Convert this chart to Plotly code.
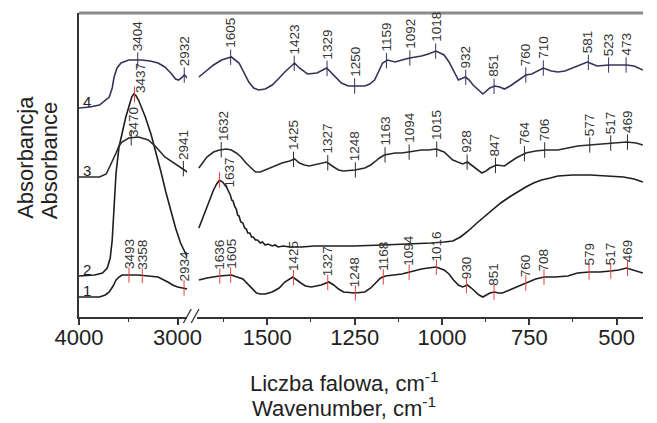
import numpy as np
import plotly.graph_objects as go

# ---------------- data (wavenumber in cm-1, absorbance in a.u., curves offset) ----------------
# curve 1
c1_hi_wn = [4000, 3792, 3733, 3693, 3654, 3624, 3594, 3564, 3495, 3396, 3297, 3198, 3099, 3050, 3000, 2931, 2901]
c1_hi_ab = [0.33, 0.33, 0.35, 0.38, 0.44, 0.50, 0.53, 0.55, 0.55, 0.55, 0.54, 0.53, 0.48, 0.45, 0.43, 0.42, 0.41]
c1_lo_wn = [1696, 1673, 1637, 1603, 1570, 1556, 1542, 1531, 1520, 1506, 1486, 1466, 1450, 1427, 1408, 1391, 1374,
            1346, 1324, 1310, 1296, 1282, 1249, 1221, 1204, 1190, 1176, 1162, 1134, 1115, 1092, 1059, 1039, 1017,
            994, 980, 967, 953, 941, 927, 916, 905, 894, 883, 872, 863, 849, 838, 827, 807, 788, 771, 760, 732,
            707, 676, 640, 612, 578, 548, 517, 494, 472, 450, 425]
c1_lo_ab = [0.50, 0.52, 0.54, 0.55, 0.51, 0.46, 0.40, 0.37, 0.36, 0.36, 0.38, 0.42, 0.48, 0.53, 0.48, 0.44, 0.43,
            0.45, 0.48, 0.45, 0.41, 0.38, 0.37, 0.38, 0.42, 0.47, 0.52, 0.54, 0.55, 0.56, 0.58, 0.61, 0.62, 0.63,
            0.60, 0.56, 0.50, 0.45, 0.43, 0.45, 0.42, 0.38, 0.35, 0.33, 0.35, 0.37, 0.38, 0.37, 0.37, 0.40, 0.43,
            0.45, 0.47, 0.51, 0.53, 0.53, 0.54, 0.57, 0.58, 0.58, 0.59, 0.60, 0.62, 0.60, 0.57]
# curve 2
c2_hi_wn = [4000, 3842, 3762, 3713, 3683, 3663, 3644, 3624, 3594, 3564, 3525, 3495, 3465, 3446, 3426, 3396, 3327,
            3267, 3218, 3168, 3119, 3069, 3020, 2970, 2921, 2901]
c2_hi_ab = [0.54, 0.55, 0.57, 0.62, 0.72, 0.90, 1.23, 1.57, 1.83, 1.97, 2.13, 2.23, 2.33, 2.36, 2.35, 2.30, 2.13,
            1.95, 1.78, 1.58, 1.38, 1.19, 1.02, 0.87, 0.76, 0.73]
c2_lo_wn = [1696, 1684, 1673, 1662, 1654, 1645, 1637, 1628, 1617, 1606, 1602, 1598, 1594, 1589, 1585, 1581, 1576,
            1570, 1565, 1560, 1556, 1550, 1545, 1540, 1534, 1528, 1520, 1514, 1506, 1498, 1486, 1478, 1469, 1455,
            1436, 1402, 1366, 1310, 1254, 1170, 1087, 1031, 994, 969, 947, 925, 900, 877, 855, 832, 807, 785,
            760, 738, 715, 690, 668, 626, 576, 528, 481, 450, 425]
c2_lo_ab = [1.02, 1.13, 1.23, 1.34, 1.40, 1.46, 1.50, 1.48, 1.43, 1.35, 1.30, 1.29, 1.24, 1.21, 1.15, 1.14, 1.08,
            1.07, 1.02, 1.01, 0.97, 0.97, 0.93, 0.93, 0.90, 0.90, 0.87, 0.88, 0.85, 0.86, 0.84, 0.85, 0.83, 0.84,
            0.83, 0.83, 0.84, 0.84, 0.84, 0.85, 0.86, 0.87, 0.88, 0.89, 0.93, 0.99, 1.07, 1.14, 1.20, 1.27, 1.33,
            1.38, 1.43, 1.47, 1.50, 1.52, 1.54, 1.55, 1.55, 1.54, 1.53, 1.51, 1.48]
# curve 3
c3_hi_wn = [4000, 3792, 3723, 3693, 3654, 3624, 3594, 3564, 3495, 3396, 3297, 3218, 3129, 3050, 3000, 2951, 2921, 2901]
c3_hi_ab = [1.53, 1.53, 1.56, 1.62, 1.70, 1.77, 1.84, 1.88, 1.92, 1.93, 1.90, 1.83, 1.73, 1.68, 1.65, 1.62, 1.60, 1.58]
c3_lo_wn = [1696, 1684, 1673, 1654, 1637, 1617, 1603, 1589, 1575, 1561, 1547, 1534, 1520, 1506, 1483, 1458, 1436,
            1422, 1408, 1394, 1380, 1352, 1330, 1310, 1296, 1282, 1249, 1221, 1204, 1193, 1179, 1165, 1134, 1115,
            1092, 1059, 1039, 1017, 994, 980, 969, 941, 927, 916, 905, 886, 874, 863, 844, 821, 805, 788, 760,
            732, 704, 668, 640, 612, 578, 548, 517, 472, 444, 425]
c3_lo_ab = [1.62, 1.68, 1.73, 1.78, 1.80, 1.81, 1.80, 1.77, 1.73, 1.67, 1.62, 1.58, 1.58, 1.60, 1.63, 1.67, 1.69,
            1.71, 1.67, 1.65, 1.64, 1.66, 1.68, 1.63, 1.60, 1.59, 1.60, 1.62, 1.65, 1.68, 1.72, 1.75, 1.77, 1.77,
            1.78, 1.80, 1.80, 1.81, 1.78, 1.74, 1.70, 1.66, 1.68, 1.65, 1.62, 1.57, 1.59, 1.62, 1.65, 1.64, 1.68,
            1.72, 1.77, 1.79, 1.80, 1.80, 1.82, 1.84, 1.85, 1.86, 1.87, 1.88, 1.87, 1.85]
# curve 4
c4_hi_wn = [4000, 3891, 3792, 3723, 3693, 3663, 3644, 3614, 3574, 3495, 3366, 3277, 3198, 3129, 3069, 3020, 2990,
            2960, 2931, 2901]
c4_hi_ab = [2.22, 2.23, 2.25, 2.30, 2.33, 2.42, 2.53, 2.62, 2.67, 2.70, 2.70, 2.69, 2.67, 2.63, 2.57, 2.51, 2.50,
            2.52, 2.55, 2.52]
c4_lo_wn = [1696, 1673, 1654, 1631, 1603, 1581, 1567, 1553, 1539, 1525, 1506, 1486, 1466, 1450, 1422, 1408, 1385,
            1358, 1330, 1310, 1288, 1268, 1249, 1221, 1207, 1193, 1182, 1170, 1156, 1134, 1115, 1092, 1059, 1039,
            1017, 994, 980, 969, 953, 933, 922, 911, 897, 883, 863, 849, 835, 821, 805, 788, 771, 760, 743, 726,
            710, 687, 668, 648, 620, 598, 584, 570, 556, 522, 500, 472, 450, 425]
c4_lo_ab = [2.53, 2.60, 2.65, 2.70, 2.73, 2.67, 2.58, 2.48, 2.42, 2.40, 2.41, 2.45, 2.52, 2.58, 2.67, 2.62, 2.56,
            2.57, 2.62, 2.55, 2.47, 2.44, 2.44, 2.44, 2.46, 2.50, 2.58, 2.67, 2.70, 2.68, 2.70, 2.72, 2.74, 2.76,
            2.79, 2.75, 2.68, 2.60, 2.50, 2.53, 2.50, 2.45, 2.40, 2.36, 2.42, 2.44, 2.43, 2.41, 2.44, 2.48, 2.52,
            2.55, 2.56, 2.59, 2.62, 2.59, 2.58, 2.59, 2.63, 2.66, 2.68, 2.66, 2.64, 2.65, 2.65, 2.65, 2.64, 2.60]

# peak labels
c1_hi_peaks = [3493, 3358, 2934]
c1_lo_peaks = [1636, 1605, 1425, 1327, 1248, 1168, 1094, 1016, 930, 851, 760, 708, 579, 517, 469]
c2_hi_peaks = [3437]
c2_lo_peaks = [1637]
c3_hi_peaks = [3470, 2941]
c3_lo_peaks = [1632, 1425, 1327, 1248, 1163, 1094, 1015, 928, 847, 764, 706, 577, 517, 469]
c4_hi_peaks = [3404, 2932]
c4_lo_peaks = [1605, 1423, 1329, 1250, 1159, 1092, 1018, 932, 851, 760, 710, 581, 523, 473]

curve_names = ["1", "2", "3", "4"]
x_major_hi = [4000, 3000]
x_minor_hi = [3500]
x_major_lo = [1500, 1250, 1000, 750, 500]
x_minor_lo = [1625, 1375, 1125, 875, 625]

# ---------------- figure ----------------
FONT = "Liberation Sans, Arial, Helvetica, sans-serif"
W, H = 657, 423
L, R, T, B = 79, 0, 13, 106
PW = W - L - R
PH = H - T - B

def px2paper_x(px):
    return (px - L) / PW

def px2paper_y(py):
    return (H - B - py) / PH

curves = [
    (c1_hi_wn, c1_hi_ab, c1_lo_wn, c1_lo_ab, c1_hi_peaks, c1_lo_peaks, "#1e1e1e", "#e8413c", 5),
    (c2_hi_wn, c2_hi_ab, c2_lo_wn, c2_lo_ab, c2_hi_peaks, c2_lo_peaks, "#1e1e1e", "#e8413c", 8),
    (c3_hi_wn, c3_hi_ab, c3_lo_wn, c3_lo_ab, c3_hi_peaks, c3_lo_peaks, "#2a2a2a", "#2a2a2a", 8),
    (c4_hi_wn, c4_hi_ab, c4_lo_wn, c4_lo_ab, c4_hi_peaks, c4_lo_peaks, "#34345a", "#34345a", 8),
]

# per-label fine offsets (pixels)
label_offsets = {("2", 3437): (6, 1), ("2", 1637): (10, -8), ("3", 3470): (3, 0), ("3", 1632): (3, 8)}

fig = go.Figure()
annotations = []
for name, (hw, ha, lw, la, hp, lp, col, mcol, ysh) in zip(curve_names, curves):
    fig.add_trace(go.Scatter(x=hw, y=ha, xaxis="x", yaxis="y", mode="lines",
                             line=dict(color=col, width=1.6), hoverinfo="skip", showlegend=False))
    fig.add_trace(go.Scatter(x=lw, y=la, xaxis="x2", yaxis="y", mode="lines",
                             line=dict(color=col, width=1.6), hoverinfo="skip", showlegend=False))
    for wns, abs_, peaks, xr in ((hw, ha, hp, "x"), (lw, la, lp, "x2")):
        yv = np.interp(peaks, wns[::-1], abs_[::-1])
        fig.add_trace(go.Scatter(x=peaks, y=yv, xaxis=xr, yaxis="y", mode="markers",
                                 marker=dict(symbol="line-ns", size=11, line=dict(color=mcol, width=1)),
                                 hoverinfo="skip", showlegend=False))
        for p, y in zip(peaks, yv):
            dx, dy = label_offsets.get((name, p), (0, ysh))
            annotations.append(dict(x=p, y=y, xref=xr, yref="y", text=str(p), textangle=-90,
                                    showarrow=False, xanchor="center", yanchor="bottom",
                                    xshift=dx, yshift=dy, borderpad=0,
                                    font=dict(family=FONT, size=13.5, color="#333333")))
    # curve number at left edge
    annotations.append(dict(x=hw[0], y=ha[0], xref="x", yref="y", text=name, showarrow=False,
                            xanchor="left", yanchor="bottom", xshift=3, yshift=-3, borderpad=0,
                            font=dict(family=FONT, size=15, color="#222222")))

# axis titles
annotations += [
    dict(x=px2paper_x(351), y=px2paper_y(382), xref="paper", yref="paper", text="Liczba falowa, cm<sup>-1</sup>",
         showarrow=False, xanchor="center", yanchor="middle", font=dict(family=FONT, size=22, color="#222222")),
    dict(x=px2paper_x(351), y=px2paper_y(407), xref="paper", yref="paper", text="Wavenumber, cm<sup>-1</sup>",
         showarrow=False, xanchor="center", yanchor="middle", font=dict(family=FONT, size=22, color="#222222")),
    dict(x=px2paper_x(24), y=px2paper_y(221), xref="paper", yref="paper", text="Absorbancja", textangle=-90,
         showarrow=False, xanchor="center", yanchor="bottom", font=dict(family=FONT, size=22, color="#222222")),
    dict(x=px2paper_x(49), y=px2paper_y(221), xref="paper", yref="paper", text="Absorbance", textangle=-90,
         showarrow=False, xanchor="center", yanchor="bottom", font=dict(family=FONT, size=22, color="#222222")),
]

axis_common = dict(showgrid=False, zeroline=False, showline=True, linecolor="#333333", linewidth=1.5,
                   ticks="outside", ticklen=6, tickwidth=1.5, tickcolor="#333333", ticklabelstandoff=-6,
                   tickfont=dict(family=FONT, size=22, color="#222222"), anchor="y")

hi_end = 4000 - (190 - L) / 0.101
lo_start = 1500 + (272 - 200) / 0.358
lo_end = 1500 - (W - 272) / 0.358

shapes = [
    dict(type="line", xref="paper", yref="paper", x0=0, x1=1, y0=1, y1=1,
         line=dict(color="#8a8a8a", width=3)),
    dict(type="line", xref="paper", yref="paper", x0=px2paper_x(186), x1=px2paper_x(194),
         y0=px2paper_y(323), y1=px2paper_y(309), line=dict(color="#333333", width=1.3)),
    dict(type="line", xref="paper", yref="paper", x0=px2paper_x(194), x1=px2paper_x(202),
         y0=px2paper_y(323), y1=px2paper_y(309), line=dict(color="#333333", width=1.3)),
]

fig.update_layout(
    width=W, height=H, margin=dict(l=L, r=R, t=T, b=B, pad=0),
    paper_bgcolor="white", plot_bgcolor="white",
    xaxis=dict(domain=[0, px2paper_x(190)], range=[4000, hi_end], tickvals=x_major_hi,
               minor=dict(tickvals=x_minor_hi, ticks="outside", ticklen=3, tickwidth=1.2, tickcolor="#333333"),
               **axis_common),
    xaxis2=dict(domain=[px2paper_x(200), 1], range=[lo_start, lo_end], tickvals=x_major_lo,
                minor=dict(tickvals=x_minor_lo, ticks="outside", ticklen=3, tickwidth=1.2, tickcolor="#333333"),
                **axis_common),
    yaxis=dict(range=[(330 - (H - B)) / 100, (330 - T) / 100], showgrid=False, zeroline=False,
               showticklabels=False, ticks="", showline=True, linecolor="#333333", linewidth=1.5),
    annotations=annotations, shapes=shapes, showlegend=False,
    font=dict(family=FONT),
)

fig.write_html("out.html", config={"displayModeBar": False},
               post_script="document.body.style.margin='0px';document.body.style.overflow='hidden';")
